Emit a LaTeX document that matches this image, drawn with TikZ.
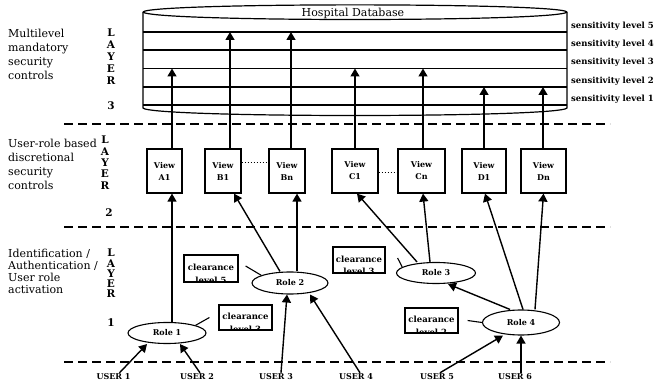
\documentclass[tikz,border=0pt]{standalone}
\usepackage{fontspec}
\setmainfont{DejaVu Serif}
\usetikzlibrary{arrows.meta,shapes.geometric,calc}
\begin{document}
\begin{tikzpicture}[x=1pt,y=-1pt,
 arr/.style={line width=1.4pt,-{Triangle[width=9pt,length=8pt]}},
 sepline/.style={line width=1.4pt,dash pattern=on 9pt off 5pt},
 dbl/.style={line width=1.2pt},
 conn/.style={line width=1.1pt},
 viewbox/.style={draw,line width=1.2pt,minimum height=44pt,inner sep=0pt,align=center,font=\bfseries\fontsize{8}{12}\selectfont},
 role/.style={draw,ellipse,line width=1.1pt,inner sep=0pt,font=\bfseries\fontsize{8}{10}\selectfont},
 clr/.style={draw,line width=1.2pt,inner sep=0pt,path picture={\node[align=center,inner sep=0pt,font=\bfseries\fontsize{8.5}{12.5}\selectfont] at ([yshift=-5.5pt]path picture bounding box.center) {clearance\\level #1};}},
 usr/.style={font=\bfseries\fontsize{8}{10}\selectfont,inner sep=1pt},
 sens/.style={anchor=west,inner sep=0pt,font=\bfseries\fontsize{8.5}{10}\selectfont},
 side/.style={anchor=north west,align=left,inner sep=0pt,font=\fontsize{11}{14}\selectfont},
 layer/.style={anchor=north,align=center,inner sep=0pt,font=\bfseries\fontsize{10.5}{11.8}\selectfont},
 num/.style={inner sep=0pt,font=\bfseries\fontsize{10.5}{11}\selectfont},
]
\useasboundingbox (0,0) rectangle (665,385);

% database cylinder
\draw[dbl] (143,12) .. controls (150,2.5) and (560,2.5) .. (567,12);
\draw[dbl] (143,12) .. controls (150,22) and (560,22) .. (567,12);
\draw[dbl] (143,12) -- (143,108) .. controls (150,118) and (560,118) .. (567,108) -- (567,12);
\foreach \yy in {32,50,68.5,87,105} \draw[dbl] (143,\yy) -- (567,\yy);
\node[inner sep=0pt,font=\fontsize{11}{13}\selectfont] (db) at (353,13.5) {Hospital Database};

% sensitivity labels
\node[sens] (s5) at (571,26) {sensitivity level 5};
\node[sens] (s4) at (571,44) {sensitivity level 4};
\node[sens] (s3) at (571,62) {sensitivity level 3};
\node[sens] (s2) at (571,81) {sensitivity level 2};
\node[sens] (s1) at (571,99) {sensitivity level 1};

% separators
\draw[sepline] (64,124) -- (610,124);
\draw[sepline] (64,227) -- (610,227);
\draw[sepline] (64,362) -- (610,362);

% left labels
\node[side] (T3) at (8,28.5) {Multilevel\\mandatory\\security\\controls};
\node[side] (T2) at (8,138.5) {User-role based\\discretional\\security\\controls};
\node[side,font=\fontsize{11}{12.3}\selectfont] (T1) at (8,248.5) {Identification /\\Authentication /\\User role\\activation};

\node[layer] (L3) at (111,29) {L\\A\\Y\\E\\R};
\node[num] (N3) at (111,106) {3};
\node[layer,font=\bfseries\fontsize{10.5}{11.3}\selectfont] (L2) at (105,136) {L\\A\\Y\\E\\R};
\node[num] (N2) at (109,213) {2};
\node[layer,font=\bfseries\fontsize{10.5}{10.2}\selectfont] (L1) at (111,249) {L\\A\\Y\\E\\R};
\node[num] (N1) at (111,323) {1};

% views
\node[viewbox,minimum width=35pt] (A1) at (164.5,171) {View\\A1};
\node[viewbox,minimum width=36pt] (B1) at (223,171) {View\\B1};
\node[viewbox,minimum width=36pt] (Bn) at (287,171) {View\\Bn};
\node[viewbox,minimum width=46pt] (C1) at (355,171) {View\\C1};
\node[viewbox,minimum width=47pt] (Cn) at (421.5,171) {View\\Cn};
\node[viewbox,minimum width=44pt] (D1) at (484,171) {View\\D1};
\node[viewbox,minimum width=45pt] (Dn) at (543.5,171) {View\\Dn};
\draw[line width=1pt,dash pattern=on 1.5pt off 1.5pt] ([yshift=8pt]B1.east) -- ([yshift=8pt]Bn.west);
\draw[line width=1pt,dash pattern=on 1.5pt off 1.5pt] ([yshift=-2pt]C1.east) -- ([yshift=-2pt]Cn.west);

% targets in database
\coordinate (tA1) at (172,68.5);
\coordinate (tB1) at (230,32);
\coordinate (tBn) at (291,32);
\coordinate (tC1) at (355,68.5);
\coordinate (tCn) at (423,68.5);
\coordinate (tD1) at (484,87);
\coordinate (tDn) at (543,87);
\draw[arr] (A1.north -| tA1) -- (tA1);
\draw[arr] (B1.north -| tB1) -- (tB1);
\draw[arr] (Bn.north -| tBn) -- (tBn);
\draw[arr] (C1.north -| tC1) -- (tC1);
\draw[arr] (Cn.north -| tCn) -- (tCn);
\draw[arr] (D1.north -| tD1) -- (tD1);
\draw[arr] (Dn.north -| tDn) -- (tDn);

% roles
\node[role,minimum width=78pt,minimum height=21pt] (R1) at (167,333) {Role 1\hspace{6pt}};
\node[role,minimum width=76pt,minimum height=22pt] (R2) at (290,283) {Role 2\hspace{14pt}};
\node[role,minimum width=79pt,minimum height=21pt] (R3) at (436,273) {Role 3\hspace{12pt}};
\node[role,minimum width=77pt,minimum height=25pt] (R4) at (521,322.5) {Role 4\hspace{14pt}};

% clearance boxes
\node[clr=5,minimum width=54pt,minimum height=27pt] (c5) at (211,268.5) {};
\node[clr=3,minimum width=53pt,minimum height=25pt] (c3a) at (245.5,317.5) {};
\node[clr=3,minimum width=52pt,minimum height=26pt] (c3b) at (359,260) {};
\node[clr=2,minimum width=53pt,minimum height=25pt] (c2) at (431.5,320.5) {};
\draw[conn] ([shift={(7pt,2.5pt)}]c5.east) -- (R2.165);
\draw[conn] (R1.15) -- ([xshift=-9pt]c3a.west);
\draw[conn] ([shift={(12pt,2pt)}]c3b.east) -- (R3.170);
\draw[conn] ([xshift=9pt]c2.east) -- (R4.west);

% role to view arrows
\draw[arr] (R1.north -| tA1) -- (A1.south -| tA1);
\draw[arr] ([xshift=-10pt]R2.north) -- ([xshift=11pt]B1.south);
\draw[arr] ([xshift=7pt]R2.north) -- ([xshift=10pt]Bn.south);
\draw[arr] ([xshift=-19pt]R3.north) -- ([xshift=2pt]C1.south);
\draw[arr] ([xshift=-6pt]R3.north) -- ([xshift=1.5pt]Cn.south);
\draw[arr] ([xshift=2pt]R4.north) -- ([xshift=1pt]D1.south);
\draw[arr] ([xshift=14pt]R4.north) -- (Dn.south);
\draw[arr] ([xshift=-11pt]R4.north) -- ([xshift=12pt]R3.south);

% users
\node[usr] (U1) at (113.5,377) {USER 1};
\node[usr] (U2) at (197,377) {USER 2};
\node[usr] (U3) at (276,377) {USER 3};
\node[usr] (U4) at (356,377) {USER 4};
\node[usr] (U5) at (437,377) {USER 5};
\node[usr] (U6) at (515,377) {USER 6};
\draw[arr] ([xshift=6pt]U1.north) -- ([xshift=-20pt]R1.south);
\draw[arr] ([xshift=3pt]U2.north) -- ([xshift=13pt]R1.south);
\draw[arr] ([xshift=5pt]U3.north) -- ([xshift=-3pt]R2.south);
\draw[arr] ([xshift=4pt]U4.north) -- ([xshift=20pt]R2.south);
\draw[arr] ([xshift=3pt]U5.north) -- ([xshift=-18pt]R4.south);
\draw[arr] ([xshift=6pt]U6.north) -- (R4.south);
\end{tikzpicture}
\end{document}
